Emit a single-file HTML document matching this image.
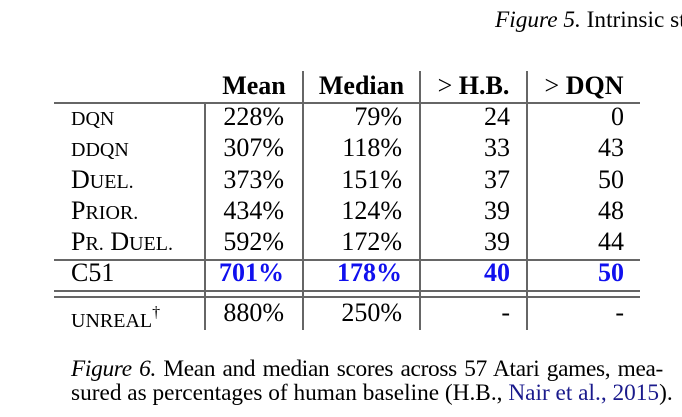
<!DOCTYPE html>
<html><head><meta charset="utf-8"><style>
body{margin:0;background:#fff;width:682px;height:417px;position:relative;overflow:hidden;font-family:"Liberation Serif",serif;color:#000}
.t{position:absolute;white-space:nowrap;font-size:26px;line-height:26px}
.h{font-weight:bold}
.r{text-align:right}
.c{text-align:center}
.s{font-size:20px}
.n{font-weight:normal}
.b{color:#1010ee;font-weight:bold}
.hl{position:absolute;height:2px;background:#666}
.vl{position:absolute;width:2px;background:#666}
.cap{position:absolute;left:71px;font-size:23.3px;line-height:22px;white-space:nowrap}
</style></head><body>
<div class="cap" style="top:9px;left:495px"><i>Figure 5.</i> Intrinsic st</div>

<div class="hl" style="left:54px;width:586px;top:102px"></div>
<div class="hl" style="left:54px;width:586px;top:259px"></div>
<div class="hl" style="left:54px;width:586px;top:290px"></div>
<div class="hl" style="left:54px;width:586px;top:296px"></div>
<div class="vl" style="left:204px;top:103px;height:227px"></div>
<div class="vl" style="left:302px;top:71px;height:259px"></div>
<div class="vl" style="left:419px;top:71px;height:259px"></div>
<div class="vl" style="left:526px;top:71px;height:259px"></div>

<div class="t h c" style="left:206px;width:96px;top:73px">Mean</div>
<div class="t h c" style="left:304px;width:115px;top:73px">Median</div>
<div class="t h c" style="left:421px;width:105px;top:73px"><span class="n">&gt;</span> H.B.</div>
<div class="t h c" style="left:528px;width:112px;top:73px"><span class="n">&gt;</span> DQN</div>

<div class="t" style="left:71px;top:104px"><span class="s">DQN</span></div>
<div class="t" style="left:71px;top:135px"><span class="s">DDQN</span></div>
<div class="t" style="left:71px;top:167px">D<span class="s">UEL.</span></div>
<div class="t" style="left:71px;top:198px">P<span class="s">RIOR.</span></div>
<div class="t" style="left:71px;top:229px">P<span class="s">R.</span> D<span class="s">UEL.</span></div>
<div class="t" style="left:71px;top:260px">C51</div>
<div class="t" style="left:71px;top:300px"><span class="s">UNREAL</span><sup style="font-size:16px;vertical-align:10px">†</sup></div>

<div class="t r" style="right:398px;top:104px">228%</div>
<div class="t r" style="right:398px;top:135px">307%</div>
<div class="t r" style="right:398px;top:167px">373%</div>
<div class="t r" style="right:398px;top:198px">434%</div>
<div class="t r" style="right:398px;top:229px">592%</div>
<div class="t r b" style="right:398px;top:260px">701%</div>
<div class="t r" style="right:398px;top:300px">880%</div>

<div class="t r" style="right:280px;top:104px">79%</div>
<div class="t r" style="right:280px;top:135px">118%</div>
<div class="t r" style="right:280px;top:167px">151%</div>
<div class="t r" style="right:280px;top:198px">124%</div>
<div class="t r" style="right:280px;top:229px">172%</div>
<div class="t r b" style="right:280px;top:260px">178%</div>
<div class="t r" style="right:280px;top:300px">250%</div>

<div class="t r" style="right:172px;top:104px">24</div>
<div class="t r" style="right:172px;top:135px">33</div>
<div class="t r" style="right:172px;top:167px">37</div>
<div class="t r" style="right:172px;top:198px">39</div>
<div class="t r" style="right:172px;top:229px">39</div>
<div class="t r b" style="right:172px;top:260px">40</div>
<div class="t r" style="right:172px;top:300px">-</div>

<div class="t r" style="right:58px;top:104px">0</div>
<div class="t r" style="right:58px;top:135px">43</div>
<div class="t r" style="right:58px;top:167px">50</div>
<div class="t r" style="right:58px;top:198px">48</div>
<div class="t r" style="right:58px;top:229px">44</div>
<div class="t r b" style="right:58px;top:260px">50</div>
<div class="t r" style="right:58px;top:300px">-</div>

<div class="cap" style="top:358px;width:592px;text-align:justify;text-align-last:justify;letter-spacing:-0.3px"><i>Figure 6.</i> Mean and median scores across 57 Atari games, mea-</div>
<div class="cap" style="top:382px">sured as percentages of human baseline (H.B., <span style="color:#1a1a8c">Nair et al., 2015</span>).</div>
</body></html>
